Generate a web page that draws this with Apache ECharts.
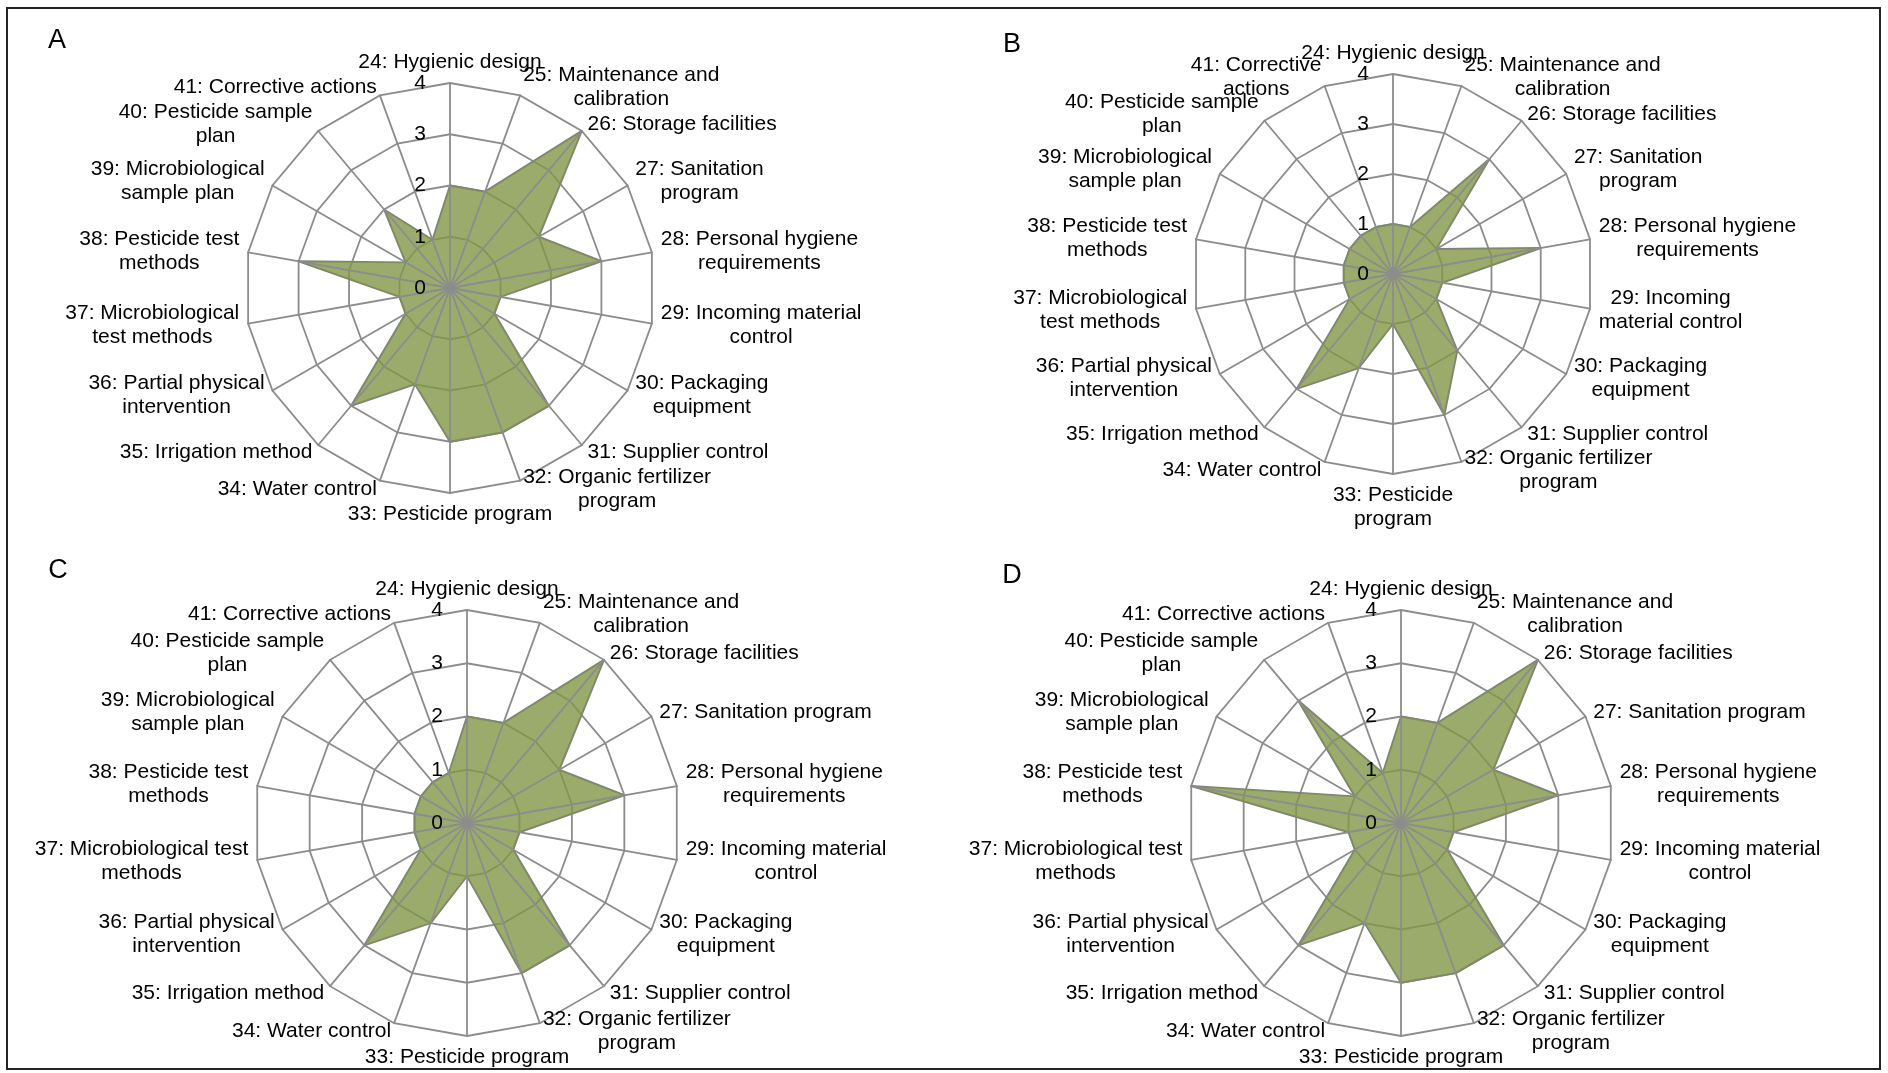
<!DOCTYPE html>
<html>
<head>
<meta charset="utf-8">
<script src="https://cdn.jsdelivr.net/npm/echarts@6/dist/echarts.min.js"></script>
<style>
  html, body { margin: 0; padding: 0; background: #fff; }
  #chart { width: 1888px; height: 1073px; }
</style>
</head>
<body>
<div id="chart"></div>
<script>
// Panel letters
const panelLetters = ['A', 'B', 'C', 'D'];

// Score scale shown on the 24 axis
const scaleTicks = [0, 1, 2, 3, 4];

// Axis labels (items 24-41), wrapped as they appear in each panel
const labelsA = [
  '24: Hygienic design',
  '25: Maintenance and\ncalibration',
  '26: Storage facilities',
  '27: Sanitation\nprogram',
  '28: Personal hygiene\nrequirements',
  '29: Incoming material\ncontrol',
  '30: Packaging\nequipment',
  '31: Supplier control',
  '32: Organic fertilizer\nprogram',
  '33: Pesticide program',
  '34: Water control',
  '35: Irrigation method',
  '36: Partial physical\nintervention',
  '37: Microbiological\ntest methods',
  '38: Pesticide test\nmethods',
  '39: Microbiological\nsample plan',
  '40: Pesticide sample\nplan',
  '41: Corrective actions'
];
const labelsB = [
  '24: Hygienic design',
  '25: Maintenance and\ncalibration',
  '26: Storage facilities',
  '27: Sanitation\nprogram',
  '28: Personal hygiene\nrequirements',
  '29: Incoming\nmaterial control',
  '30: Packaging\nequipment',
  '31: Supplier control',
  '32: Organic fertilizer\nprogram',
  '33: Pesticide\nprogram',
  '34: Water control',
  '35: Irrigation method',
  '36: Partial physical\nintervention',
  '37: Microbiological\ntest methods',
  '38: Pesticide test\nmethods',
  '39: Microbiological\nsample plan',
  '40: Pesticide sample\nplan',
  '41: Corrective\nactions'
];
const labelsC = [
  '24: Hygienic design',
  '25: Maintenance and\ncalibration',
  '26: Storage facilities',
  '27: Sanitation program',
  '28: Personal hygiene\nrequirements',
  '29: Incoming material\ncontrol',
  '30: Packaging\nequipment',
  '31: Supplier control',
  '32: Organic fertilizer\nprogram',
  '33: Pesticide program',
  '34: Water control',
  '35: Irrigation method',
  '36: Partial physical\nintervention',
  '37: Microbiological test\nmethods',
  '38: Pesticide test\nmethods',
  '39: Microbiological\nsample plan',
  '40: Pesticide sample\nplan',
  '41: Corrective actions'
];
const labelsD = labelsC.slice();

// Scores for items 24-41 in each panel
const scoresA = [2, 2, 4, 2, 3, 1, 1, 3, 3, 3, 2, 3, 1, 1, 3, 1, 2, 1];
const scoresB = [1, 1, 3, 1, 3, 1, 1, 2, 3, 1, 2, 3, 1, 1, 1, 1, 1, 1];
const scoresC = [2, 2, 4, 2, 3, 1, 1, 3, 3, 1, 2, 3, 1, 1, 1, 1, 1, 1];
const scoresD = [2, 2, 4, 2, 3, 1, 1, 3, 3, 3, 2, 3, 1, 1, 4, 1, 3, 1];

// ---- layout and styling ----
const FONT = '"Liberation Sans", Arial, Helvetica, sans-serif';
const GRID = '#8c8c8c';
const layout = [
  { labels: labelsA, scores: scoresA, center: [450, 288], radius: 205, letterAt: [57, 41] },
  { labels: labelsB, scores: scoresB, center: [1393, 274], radius: 200, letterAt: [1012, 45] },
  { labels: labelsC, scores: scoresC, center: [467, 823], radius: 213, letterAt: [58, 571] },
  { labels: labelsD, scores: scoresD, center: [1401, 823], radius: 213, letterAt: [1012, 576] }
];

// ECharts lays radar axes out counter-clockwise; walk the items clockwise from the top.
const clockwise = (arr) => [arr[0]].concat(arr.slice(1).reverse());

const tickLabelStyle = {
  color: '#000',
  fontSize: 21,
  fontFamily: FONT,
  margin: 24,
  formatter: (v) => String(v)
};

const radars = [];
const series = [];
layout.forEach((p, k) => {
  const names = clockwise(p.labels);
  const scaleMin = scaleTicks[0];
  const scaleMax = scaleTicks[scaleTicks.length - 1];
  const base = {
    center: p.center,
    radius: p.radius,
    startAngle: 90,
    shape: 'polygon',
    splitNumber: scaleTicks.length - 1,
    axisTick: { show: false },
    splitArea: { show: false }
  };
  // rings and item names (under the filled area)
  radars.push(Object.assign({}, base, {
    z: 0,
    indicator: names.map((n) => ({ name: n, min: scaleMin, max: scaleMax })),
    nameGap: 9,
    axisName: {
      color: '#000',
      fontSize: 21,
      fontFamily: FONT,
      formatter: (name) => name.split('\n').map(s => '{c|' + s + '}').join('\n'),
      rich: {
        c: { align: 'center', fontSize: 21, lineHeight: 24, color: '#000', fontFamily: FONT }
      }
    },
    axisLine: { show: false },
    splitLine: { show: true, lineStyle: { color: GRID, width: 1.8 } },
    axisLabel: { show: false }
  }));
  // spokes and the score scale, drawn above the filled area
  radars.push(Object.assign({}, base, {
    z: 5,
    silent: true,
    indicator: names.map((n, i) => ({
      name: '',
      min: scaleMin,
      max: scaleMax,
      axisLabel: Object.assign({ show: i === 0 }, tickLabelStyle)
    })),
    axisName: { show: false },
    axisLine: { show: true, lineStyle: { color: GRID, width: 1.8 } },
    splitLine: { show: false },
    axisLabel: Object.assign({ show: false }, tickLabelStyle)
  }));
  series.push({
    type: 'radar',
    radarIndex: 2 * k,
    z: 2,
    symbol: 'none',
    silent: true,
    lineStyle: { color: '#808080', width: 2 },
    areaStyle: { color: 'rgb(129,150,71)', opacity: 0.8 },
    data: [{ value: clockwise(p.scores), name: panelLetters[k] }]
  });
});

const graphics = [
  {
    type: 'rect',
    shape: { x: 7, y: 8, width: 1873, height: 1061 },
    style: { fill: 'none', stroke: '#222', lineWidth: 2 },
    z: 10
  }
].concat(layout.map((p, k) => ({
  type: 'text',
  x: p.letterAt[0],
  y: p.letterAt[1],
  style: {
    text: panelLetters[k],
    fill: '#000',
    font: '27px ' + FONT,
    textAlign: 'center',
    textVerticalAlign: 'middle'
  },
  z: 10
})));

const chart = echarts.init(document.getElementById('chart'), null, { renderer: 'canvas' });
chart.setOption({
  animation: false,
  backgroundColor: '#fff',
  radar: radars,
  series: series,
  graphic: graphics
});
</script>
</body>
</html>
